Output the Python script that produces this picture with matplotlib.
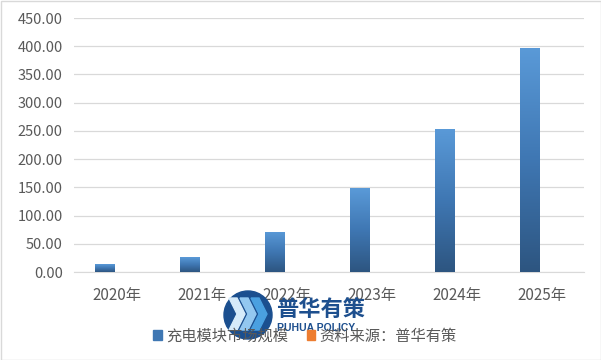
import matplotlib
matplotlib.use("Agg")
import matplotlib.pyplot as plt
import numpy as np
from matplotlib.patches import Circle, Polygon, Rectangle
from matplotlib.colors import LinearSegmentedColormap

plt.rcParams['font.family'] = ['Noto Sans CJK SC', 'DejaVu Sans']

categories = ['2020年', '2021年', '2022年', '2023年', '2024年', '2025年']
values = [13.5, 26.5, 71.0, 148.5, 254.0, 397.0]
series_names = ['充电模块市场规模', '资料来源：普华有策']
yticks = [0, 50, 100, 150, 200, 250, 300, 350, 400, 450]

W, H = 601, 360
fig = plt.figure(figsize=(W/100, H/100), dpi=100)
ax = fig.add_axes([74/W, 1-272/H, (584-74)/W, (272-18)/H])

x = np.arange(len(categories))
bw = 0.225
off = -0.14
bars = ax.bar(x + off, values, width=bw, color='#4a7fb5', zorder=2)

cmap = LinearSegmentedColormap.from_list('g', ['#2d5580', '#3f77b3', '#5a9ad8'])
grad = np.linspace(0, 1, 256).reshape(-1, 1)
for b in bars:
    bx, by = b.get_x(), b.get_y()
    bwid, bh = b.get_width(), b.get_height()
    im = ax.imshow(grad, cmap=cmap, origin='lower', aspect='auto',
                   extent=[bx, bx + bwid, by, by + bh], zorder=3)
    im.set_clip_path(b)

ax.set_xlim(-0.5, len(categories) - 0.5)
ax.set_ylim(0, 450)
ax.set_yticks(yticks)
ax.set_yticklabels([f'{v:.2f}' for v in yticks], color='#595959', fontsize=10.5)
ax.set_xticks(x)
ax.set_xticklabels(categories, color='#595959', fontsize=11)
ax.tick_params(length=0, pad=8)
ax.tick_params(axis='x', pad=11)
ax.grid(axis='y', color='#d9d9d9', linewidth=0.9, zorder=0)
ax.set_axisbelow(True)
for s in ['top', 'right', 'left']:
    ax.spines[s].set_visible(False)
ax.spines['bottom'].set_color('#d9d9d9')

# legend
h1 = Rectangle((0, 0), 1, 1, color='#3f77b3')
h2 = Rectangle((0, 0), 1, 1, color='#ED7D31')
fig.legend([h1, h2], series_names, loc='center', bbox_to_anchor=(305/W, 1-336/H),
           ncol=2, frameon=False, fontsize=11, handlelength=0.55, handleheight=0.55,
           handletextpad=0.3, columnspacing=1.2, labelcolor='#595959')

# figure border
fig.patches.append(Rectangle((0.5/W, 0.5/H), 1-1/W, 1-1/H, transform=fig.transFigure,
                             fill=False, edgecolor='#d9d9d9', linewidth=1))

# logo overlay
lax = fig.add_axes([0, 0, 1, 1], facecolor='none')
lax.set_xlim(0, W)
lax.set_ylim(H, 0)
lax.axis('off')
lax.add_patch(Circle((248, 315), 24, color='#1b4f8f', zorder=5))
for dx, col in [(-13, '#d6ebfa'), (-2, '#93c8f0'), (9, '#4aa0e0')]:
    cx = 248 + dx
    pts = [(cx - 6, 298), (cx + 2, 298), (cx + 10, 314), (cx + 2, 330), (cx - 6, 330), (cx + 2, 314)]
    lax.add_patch(Polygon(pts, closed=True, color=col, zorder=6))
lax.text(276, 309, '普华有策', fontsize=16, fontweight='bold', color='#1d4f8e',
         va='center', ha='left', zorder=6)
lax.text(277, 328, 'PUHUA POLICY', fontsize=7.5, fontweight='bold', color='#1d4f8e',
         va='center', ha='left', family='Liberation Sans', zorder=6)

fig.savefig('out.png', dpi=100)
